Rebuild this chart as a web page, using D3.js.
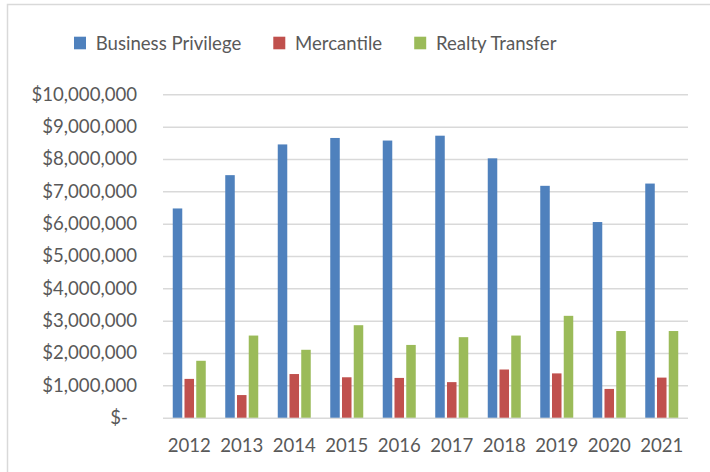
<!DOCTYPE html>
<html>
<head>
<meta charset="utf-8">
<script src="https://cdn.jsdelivr.net/npm/d3@7/dist/d3.min.js"></script>
<style>
  body { margin: 0; background: #fff; }
  text { font-family: Lato, "Open Sans", sans-serif; fill: #595959; }
</style>
</head>
<body>
<svg id="chart"></svg>
<script>
// data
const years = ["2012", "2013", "2014", "2015", "2016", "2017", "2018", "2019", "2020", "2021"];
const seriesNames = ["Business Privilege", "Mercantile", "Realty Transfer"];
const businessPrivilege = [6470000, 7500000, 8450000, 8650000, 8570000, 8720000, 8020000, 7170000, 6050000, 7240000];
const mercantile = [1200000, 700000, 1350000, 1250000, 1230000, 1100000, 1490000, 1370000, 890000, 1240000];
const realtyTransfer = [1760000, 2540000, 2100000, 2860000, 2250000, 2490000, 2540000, 3150000, 2680000, 2680000];
const yTicks = [0, 1000000, 2000000, 3000000, 4000000, 5000000, 6000000, 7000000, 8000000, 9000000, 10000000];

const colors = ["#4F81BD", "#C0504D", "#9BBB59"];
const seriesValues = [businessPrivilege, mercantile, realtyTransfer];

let width = 710;
let height = 472;
let marginLeft = 163;
let plotRight = 688;
let plotTop = 94.3;
let plotBottom = 417.7;

const svg = d3.select("#chart").attr("width", width).attr("height", height);

// chart frame (cropped on right/bottom in the original)
svg.append("rect")
  .attr("x", 7.5).attr("y", 4.5)
  .attr("width", 800).attr("height", 600)
  .attr("fill", "none")
  .attr("stroke", "#d9d9d9")
  .attr("stroke-width", 1.5);

const data = years.map((y, i) => ({
  year: y,
  values: seriesNames.map((s, j) => ({ name: s, value: seriesValues[j][i], color: colors[j] }))
}));

const x0 = d3.scaleBand().domain(years).range([marginLeft, plotRight]);
const groupW = 33;
const x1 = d3.scaleBand()
  .domain(seriesNames)
  .range([(x0.bandwidth() - groupW) / 2, (x0.bandwidth() + groupW) / 2])
  .paddingInner(0.19);

const yScale = d3.scaleLinear().domain([0, 10000000]).range([plotBottom, plotTop]);

// gridlines
svg.append("g")
  .attr("class", "grid")
  .attr("transform", `translate(${marginLeft},0)`)
  .call(d3.axisLeft(yScale).tickValues(yTicks).tickSize(-(plotRight - marginLeft)).tickFormat(""))
  .call((g) => g.select(".domain").remove())
  .call((g) => g.selectAll("line").attr("stroke", "#d9d9d9").attr("stroke-width", 1.5));

// y axis labels
const fmt = d3.format(",");
svg.append("g")
  .attr("class", "y-axis")
  .attr("transform", `translate(137,0)`)
  .call(d3.axisLeft(yScale).tickValues(yTicks).tickSize(0).tickPadding(0)
    .tickFormat((d) => (d === 0 ? "$-" : "$" + fmt(d))))
  .call((g) => g.select(".domain").remove())
  .call((g) => g.selectAll("text")
    .style("font-size", "18.6px")
    .attr("fill", "#595959")
    .attr("dx", (d) => (d === 0 ? -9 : 0)));

// bars
const groups = svg.append("g")
  .selectAll("g")
  .data(data)
  .join("g")
  .attr("transform", (d) => `translate(${x0(d.year)},0)`);

groups.selectAll("rect")
  .data((d) => d.values)
  .join("rect")
  .attr("x", (d) => x1(d.name))
  .attr("width", x1.bandwidth())
  .attr("y", (d) => yScale(d.value))
  .attr("height", (d) => yScale(0) - yScale(d.value))
  .attr("fill", (d) => d.color);

// x axis labels
svg.append("g")
  .attr("class", "x-axis")
  .attr("transform", `translate(0,${plotBottom})`)
  .call(d3.axisBottom(x0).tickSize(0).tickPadding(21))
  .call((g) => g.select(".domain").remove())
  .call((g) => g.selectAll("text").style("font-size", "18.6px").attr("fill", "#595959"));

// legend
const legend = svg.append("g").attr("class", "legend").attr("transform", "translate(74,43)");
let lx = 0;
seriesNames.forEach((name, i) => {
  const item = legend.append("g").attr("transform", `translate(${lx},0)`);
  item.append("rect")
    .attr("x", 0).attr("y", -6.3)
    .attr("width", 12).attr("height", 12.6)
    .attr("fill", colors[i]);
  const t = item.append("text")
    .attr("x", 21.7)
    .attr("dy", "0.35em")
    .style("font-size", "18.6px")
    .text(name);
  lx += 21.7 + t.node().getComputedTextLength() + 32;
});
</script>
</body>
</html>
